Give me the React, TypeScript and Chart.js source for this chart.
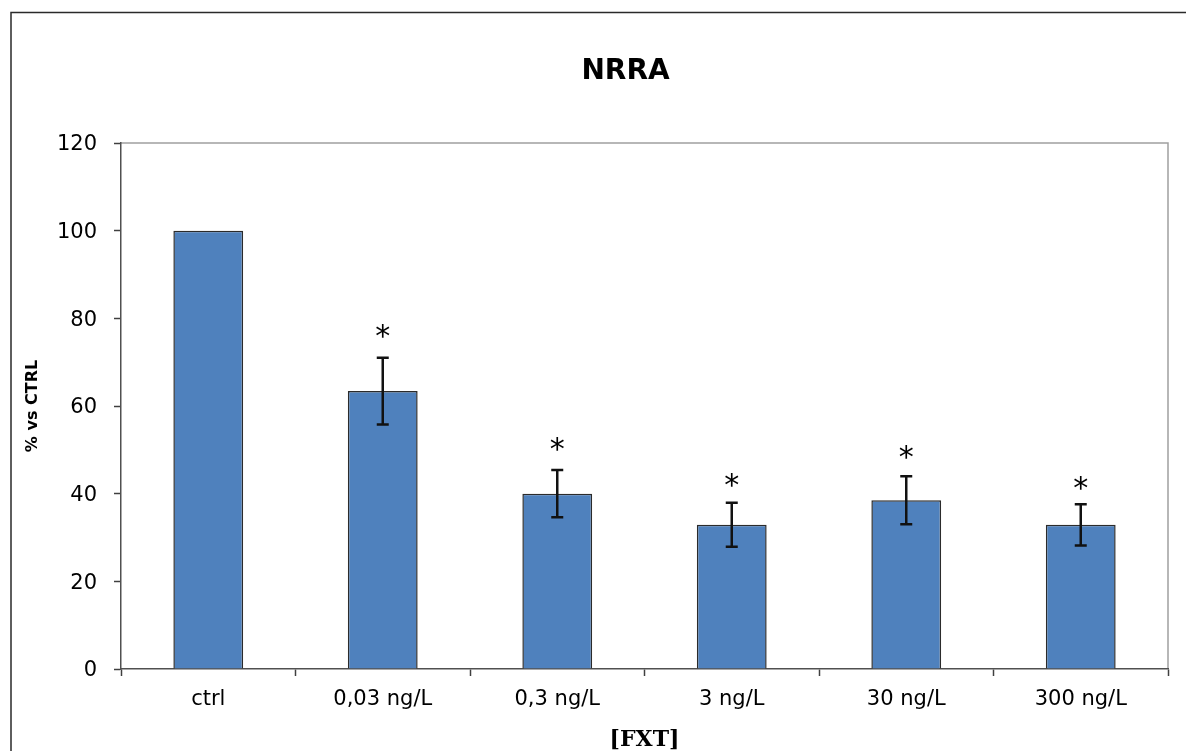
import React, { useEffect, useRef } from "react";
import { Chart, registerables } from "chart.js";

Chart.register(...registerables);

const categories = ["ctrl", "0,03 ng/L", "0,3 ng/L", "3 ng/L", "30 ng/L", "300 ng/L"];
const values = [100, 63.4, 40.0, 32.9, 38.5, 32.9];
const errors = [0, 7.6, 5.4, 5.0, 5.5, 4.7];
const asteriskLevels = [null, 77.0, 51.3, 43.1, 49.6, 42.4];
const yTicks = [0, 20, 40, 60, 80, 100, 120];
const chartTitle = "NRRA";
const yTitle = "% vs CTRL";
const xTitle = "[FXT]";

const W = 1186;
const H = 751;

const decorPlugin = {
  id: "decor",
  beforeDraw(chart: any) {
    const { ctx, chartArea } = chart;
    ctx.save();
    ctx.fillStyle = "#fff";
    ctx.fillRect(0, 0, W, H);
    // outer frame
    ctx.strokeStyle = "#2a2a2a";
    ctx.lineWidth = 1.5;
    ctx.strokeRect(11, 12.5, 3000, 3000);
    // plot frame top/right
    ctx.strokeStyle = "#a0a0a0";
    ctx.lineWidth = 1.5;
    ctx.beginPath();
    ctx.moveTo(chartArea.left, chartArea.top);
    ctx.lineTo(chartArea.right, chartArea.top);
    ctx.lineTo(chartArea.right, chartArea.bottom);
    ctx.stroke();
    ctx.restore();
  },
  afterDatasetsDraw(chart: any) {
    const { ctx, scales } = chart;
    const meta = chart.getDatasetMeta(0);
    ctx.save();
    ctx.strokeStyle = "#111";
    ctx.lineWidth = 2.5;
    meta.data.forEach((bar: any, i: number) => {
      const e = errors[i];
      if (!e) return;
      const x = bar.x;
      const yHi = scales.y.getPixelForValue(values[i] + e);
      const yLo = scales.y.getPixelForValue(values[i] - e);
      ctx.beginPath();
      ctx.moveTo(x, yHi);
      ctx.lineTo(x, yLo);
      ctx.moveTo(x - 6, yHi);
      ctx.lineTo(x + 6, yHi);
      ctx.moveTo(x - 6, yLo);
      ctx.lineTo(x + 6, yLo);
      ctx.stroke();
    });
    // asterisks
    ctx.fillStyle = "#000";
    ctx.font = "30px 'DejaVu Sans'";
    ctx.textAlign = "center";
    ctx.textBaseline = "alphabetic";
    const m = ctx.measureText("*");
    const off = (m.actualBoundingBoxAscent - m.actualBoundingBoxDescent) / 2;
    meta.data.forEach((bar: any, i: number) => {
      const lvl = asteriskLevels[i];
      if (lvl == null) return;
      const cy = scales.y.getPixelForValue(lvl);
      ctx.fillText("*", bar.x, cy + off);
    });
    ctx.restore();
  },
  afterDraw(chart: any) {
    const { ctx, chartArea } = chart;
    ctx.save();
    ctx.fillStyle = "#000";
    ctx.textAlign = "center";
    ctx.textBaseline = "alphabetic";
    // title
    ctx.font = "bold 28px 'DejaVu Sans'";
    let m = ctx.measureText(chartTitle);
    ctx.fillText(chartTitle, 625.5, 68.5 + (m.actualBoundingBoxAscent - m.actualBoundingBoxDescent) / 2);
    // x title
    ctx.font = "bold 22px 'DejaVu Serif'";
    ctx.fillText(xTitle, (chartArea.left + chartArea.right) / 2, 746);
    // y title
    ctx.translate(32.5, (chartArea.top + chartArea.bottom) / 2);
    ctx.rotate(-Math.PI / 2);
    ctx.font = "bold 16px 'DejaVu Sans'";
    ctx.textBaseline = "middle";
    ctx.fillText(yTitle, 0, 0);
    ctx.restore();
  },
};

export default function App() {
  const ref = useRef<HTMLCanvasElement | null>(null);
  useEffect(() => {
    if (!ref.current) return;
    const chart = new Chart(ref.current, {
      type: "bar",
      data: {
        labels: categories,
        datasets: [
          {
            data: values,
            backgroundColor: "#4F81BD",
            borderColor: "#2b2b2b",
            borderWidth: 1.5,
            categoryPercentage: 1,
            barPercentage: 0.4,
          },
        ],
      },
      options: {
        responsive: false,
        animation: false,
        devicePixelRatio: 1,
        layout: { padding: { left: 0, top: 143, right: 18, bottom: 0 } },
        plugins: { legend: { display: false }, tooltip: { enabled: false }, title: { display: false } },
        scales: {
          x: {
            afterFit: (s: any) => {
              s.height = 82;
            },
            grid: { drawOnChartArea: false, offset: true, tickLength: 7, tickColor: "#404040", tickWidth: 1.5 },
            border: { color: "#505050", width: 1.5 },
            ticks: { color: "#000", font: { family: "'DejaVu Sans'", size: 21 }, padding: 11, maxRotation: 0 },
          },
          y: {
            min: 0,
            max: 120,
            afterFit: (s: any) => {
              s.width = 121;
            },
            afterBuildTicks: (s: any) => {
              s.ticks = yTicks.map((v) => ({ value: v }));
            },
            grid: { drawOnChartArea: false, tickLength: 7, tickColor: "#404040", tickWidth: 1.5 },
            border: { color: "#505050", width: 1.5 },
            ticks: { color: "#000", font: { family: "'DejaVu Sans'", size: 21 }, padding: 17, labelOffset: 2 },
          },
        },
      },
      plugins: [decorPlugin],
    });
    return () => chart.destroy();
  }, []);
  return (
    <div style={{ position: "fixed", left: 0, top: 0, width: W, height: H, background: "#fff" }}>
      <canvas ref={ref} width={W} height={H} style={{ display: "block", width: W, height: H }} />
    </div>
  );
}
